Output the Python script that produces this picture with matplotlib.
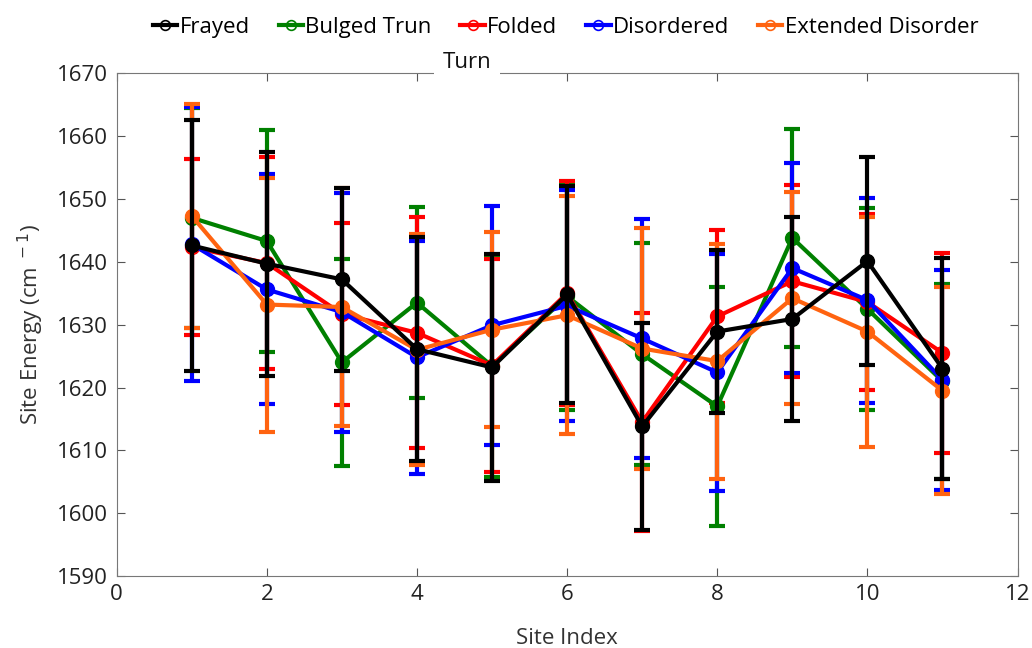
import numpy as np
import matplotlib
matplotlib.use('Agg')
import matplotlib.pyplot as plt
from matplotlib.lines import Line2D

plt.rcParams['font.family'] = ['Open Sans', 'DejaVu Sans']

sites = np.arange(1, 12)

# mean site energies (cm^-1) and symmetric error bars
frayed = [1642.6, 1639.7, 1637.2, 1626.1, 1623.2, 1634.8, 1613.8, 1628.9, 1630.9, 1640.1, 1623.0]
frayed_err = [20.0, 17.8, 14.6, 17.8, 18.0, 17.2, 16.4, 12.9, 16.2, 16.5, 17.6]

bulged = [1647.0, 1643.3, 1624.0, 1633.5, 1623.4, 1634.5, 1625.3, 1617.0, 1643.8, 1632.5, 1621.0]
bulged_err = [17.5, 17.6, 16.5, 15.2, 17.6, 18.0, 17.7, 19.0, 17.4, 16.0, 15.5]

folded = [1642.3, 1639.8, 1631.7, 1628.7, 1623.5, 1635.0, 1614.5, 1631.3, 1636.9, 1633.6, 1625.5]
folded_err = [14.0, 16.8, 14.5, 18.4, 17.0, 17.8, 17.3, 13.8, 15.3, 14.0, 15.9]

disordered = [1642.8, 1635.6, 1632.0, 1624.8, 1629.9, 1633.0, 1627.8, 1622.4, 1639.0, 1633.9, 1621.2]
disordered_err = [21.8, 18.3, 19.0, 18.5, 19.0, 18.4, 19.0, 18.8, 16.7, 16.3, 17.5]

extended = [1647.3, 1633.2, 1632.8, 1626.0, 1629.2, 1631.5, 1626.2, 1624.2, 1634.2, 1628.9, 1619.5]
extended_err = [17.8, 20.2, 19.0, 18.4, 15.5, 18.9, 19.2, 18.7, 16.9, 18.3, 16.5]

names = ['Frayed', 'Bulged Trun', 'Folded', 'Disordered', 'Extended Disorder']
colors = ['black', '#008000', '#ff0000', '#0000ff', '#ff6310']
series = [frayed, bulged, folded, disordered, extended]
errs = [frayed_err, bulged_err, folded_err, disordered_err, extended_err]

fig = plt.figure(figsize=(10.32, 6.48), dpi=100)
ax = fig.add_axes([0.113, 0.111, 0.873, 0.776])

# draw black last so it sits on top
order = [1, 2, 3, 4, 0]
for i in order:
    ax.errorbar(sites, series[i], yerr=errs[i], color=colors[i], lw=3,
                elinewidth=3, capsize=6, capthick=3, marker='o', ms=10,
                zorder=3 + (i == 0))

ax.set_xlim(0, 12)
ax.set_ylim(1590, 1670)
ax.set_xticks(np.arange(0, 13, 2))
ax.set_yticks(np.arange(1590, 1671, 10))
ax.tick_params(direction='in', top=True, right=True, labelsize=16,
               length=6, color='#555555', labelcolor='#222222', pad=6)
for s in ax.spines.values():
    s.set_color('#777777')
ax.set_xlabel('Site Index', fontsize=16, color='#333333', labelpad=16)
ax.set_ylabel('Site Energy (cm$^{\\ -1}$)', fontsize=16, color='#333333', labelpad=8)

handles = [Line2D([0], [0], color=c, lw=3, marker='o', ms=7,
                  mfc='none', mew=1.2) for c in colors]
fig.legend(handles, names, loc='upper center', bbox_to_anchor=(0.548, 1.005),
           ncol=5, frameon=False, fontsize=16, handlelength=1.1,
           handletextpad=0.1, columnspacing=1.3)

ax.text(0.389, 1.022, 'Turn', transform=ax.transAxes, ha='center',
        va='center', fontsize=16, color='#111111', zorder=10, clip_on=False,
        bbox=dict(facecolor='white', edgecolor='none', pad=6))

fig.savefig('out.png', dpi=100)
